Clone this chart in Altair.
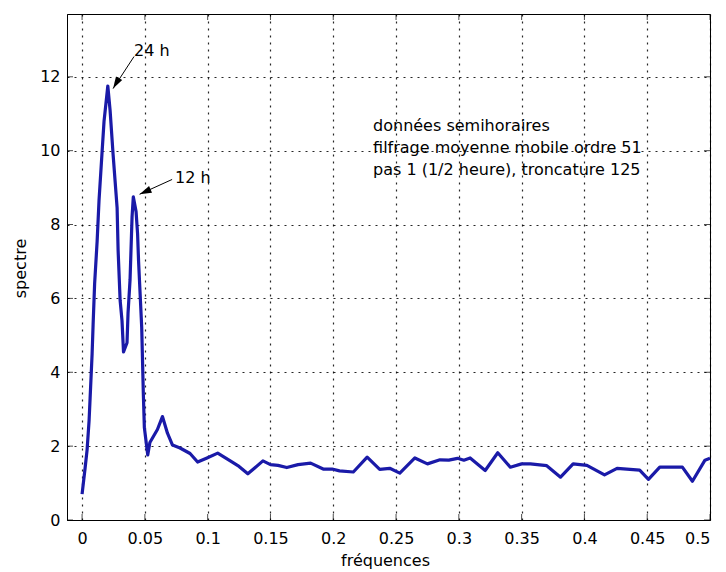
import altair as alt
import pandas as pd

# spectrum curve (frequency, value)
freq = [0.000, 0.0024, 0.004, 0.0056, 0.0064, 0.008, 0.0088, 0.0100, 0.012, 0.0135,
        0.016, 0.0175, 0.0205, 0.0223, 0.0247, 0.0279, 0.0287, 0.0303, 0.0318, 0.0330,
        0.0358, 0.0366, 0.0382, 0.0398, 0.0408, 0.0430, 0.0442, 0.0450, 0.0475, 0.0488,
        0.0496, 0.0523, 0.0540, 0.0600, 0.0640, 0.0680, 0.0720, 0.0780, 0.0860, 0.0920,
        0.0995, 0.1080, 0.1180, 0.1250, 0.1320, 0.1440, 0.1500, 0.1560, 0.1630, 0.1720,
        0.1820, 0.1920, 0.1990, 0.2050, 0.2160, 0.2270, 0.2370, 0.2450, 0.2530, 0.2650,
        0.2750, 0.2850, 0.2920, 0.2990, 0.3040, 0.3090, 0.3210, 0.3310, 0.3410, 0.3500,
        0.3570, 0.3700, 0.3810, 0.3910, 0.4020, 0.4160, 0.4260, 0.4440, 0.4510, 0.4600,
        0.4780, 0.4860, 0.4960, 0.5000]
spectre = [0.70, 1.40, 1.90, 2.70, 3.30, 4.50, 5.30, 6.40, 7.55, 8.65,
           10.0, 10.8, 11.75, 11.10, 9.90, 8.45, 7.30, 5.95, 5.40, 4.55,
           4.80, 5.60, 6.50, 8.20, 8.75, 8.35, 7.75, 7.00, 5.20, 3.40,
           2.50, 1.76, 2.10, 2.45, 2.80, 2.35, 2.03, 1.95, 1.80, 1.57,
           1.68, 1.81, 1.60, 1.45, 1.25, 1.60, 1.50, 1.48, 1.42, 1.50,
           1.54, 1.38, 1.38, 1.33, 1.30, 1.70, 1.37, 1.40, 1.27, 1.68,
           1.52, 1.63, 1.62, 1.67, 1.62, 1.68, 1.34, 1.82, 1.43, 1.52,
           1.52, 1.47, 1.16, 1.52, 1.48, 1.22, 1.40, 1.35, 1.10, 1.43,
           1.43, 1.05, 1.62, 1.67]

x_ticks = [0, 0.05, 0.1, 0.15, 0.2, 0.25, 0.3, 0.35, 0.4, 0.45, 0.5]
y_ticks = [0, 2, 4, 6, 8, 10, 12]

# annotations
arrow_x = [0.0414, 0.0717]
arrow_y = [12.55, 9.22]
arrow_x2 = [0.0247, 0.0458]
arrow_y2 = [11.68, 8.82]
arrow_angle = [210, 246]
label_text = ["24 h", "12 h"]
label_x = [0.0414, 0.0740]
label_y = [12.57, 9.13]

info_lines = ["données semihoraires",
              "filfrage moyenne mobile ordre 51",
              "pas 1 (1/2 heure), troncature 125"]
info_x = [0.2317, 0.2317, 0.2317]
info_y = [10.54, 9.95, 9.35]

FONT = "DejaVu Sans"
W, H = 643, 506

curve = pd.DataFrame({"f": freq, "s": spectre})
arrows = pd.DataFrame({"x": arrow_x, "y": arrow_y, "x2": arrow_x2, "y2": arrow_y2,
                       "angle": arrow_angle})
labels = pd.DataFrame({"x": label_x, "y": label_y, "t": label_text})
info = pd.DataFrame({"x": info_x, "y": info_y, "t": info_lines})
xt = pd.DataFrame({"f": x_ticks})
yt = pd.DataFrame({"s": y_ticks})

xscale = alt.Scale(domain=[-0.012, 0.5], nice=False, zero=False)
yscale = alt.Scale(domain=[0, 13.7], nice=False, zero=False)

xaxis = alt.Axis(values=x_ticks, format="~g", title="fréquences",
                 titleX=318, titleY=45, titleBaseline="alphabetic", labelPadding=10)
yaxis = alt.Axis(values=y_ticks, title="spectre",
                 titleX=-42, titleY=254, titleBaseline="alphabetic", labelPadding=7)

line = alt.Chart(curve).mark_line(color="#1a1aa8", strokeWidth=3.2, strokeJoin="round").encode(
    x=alt.X("f:Q", scale=xscale, axis=xaxis),
    y=alt.Y("s:Q", scale=yscale, axis=yaxis),
    order=alt.Order("f:Q"),
)

# inward tick marks on all four sides (outer half clipped away)
tick_style = dict(color="black", size=12, thickness=1, clip=True)
xt_bottom = alt.Chart(xt).mark_tick(**tick_style).encode(
    x=alt.X("f:Q", scale=xscale, axis=xaxis), y=alt.value(H))
xt_top = alt.Chart(xt).mark_tick(**tick_style).encode(
    x=alt.X("f:Q", scale=xscale, axis=xaxis), y=alt.value(0))
yt_left = alt.Chart(yt).mark_tick(**tick_style).encode(
    y=alt.Y("s:Q", scale=yscale, axis=yaxis), x=alt.value(0))
yt_right = alt.Chart(yt).mark_tick(**tick_style).encode(
    y=alt.Y("s:Q", scale=yscale, axis=yaxis), x=alt.value(W))

rules = alt.Chart(arrows).mark_rule(color="black", strokeWidth=1).encode(
    x="x:Q", y="y:Q", x2="x2:Q", y2="y2:Q")

heads = alt.Chart(arrows).mark_point(
    shape="M0,0L-0.6,2L0.6,2Z", filled=True, color="black", size=144, opacity=1
).encode(x="x2:Q", y="y2:Q", angle=alt.Angle("angle:Q", scale=None))

lbl = alt.Chart(labels).mark_text(align="left", baseline="alphabetic", font=FONT,
                                  fontSize=16, color="black").encode(
    x="x:Q", y="y:Q", text="t:N")

inf = alt.Chart(info).mark_text(align="left", baseline="alphabetic", font=FONT,
                                fontSize=16, color="black").encode(
    x="x:Q", y="y:Q", text="t:N")

chart = alt.layer(line, xt_bottom, xt_top, yt_left, yt_right, rules, heads, lbl, inf).properties(
    width=W, height=H,
    autosize=alt.AutoSizeParams(type="none"),
    padding={"left": 59, "top": 6, "right": 8, "bottom": 50},
    background="white",
).configure_axis(
    grid=True, gridColor="black", gridDash=[2, 5], gridWidth=1.2, gridOpacity=0.85,
    domainColor="black", domainWidth=1, ticks=False, tickSize=0,
    labelFont=FONT, labelFontSize=16, labelColor="black",
    titleFont=FONT, titleFontSize=16, titleColor="black", titleFontWeight="normal",
).configure_view(stroke="black", strokeWidth=1)

chart.save("out.html", embed_options={"renderer": "svg", "actions": False})
